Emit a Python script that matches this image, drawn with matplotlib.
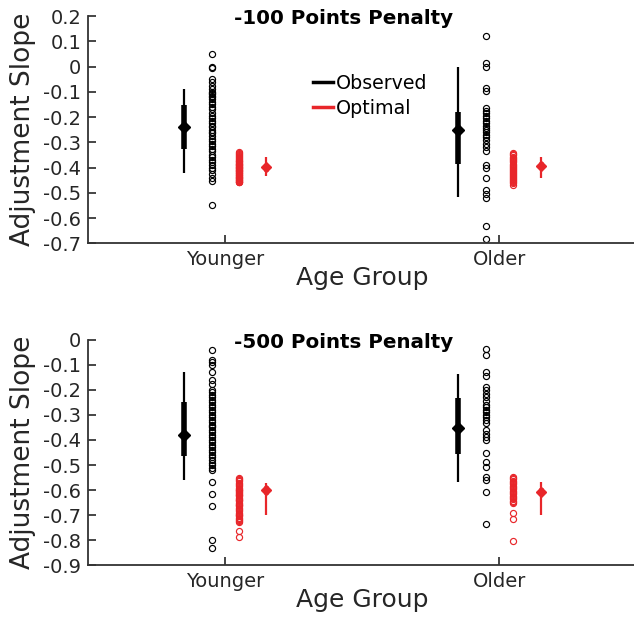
"""Adjustment slope by age group, observed vs optimal, for two penalty levels."""

import matplotlib
matplotlib.use("Agg")
import matplotlib.pyplot as plt
from matplotlib.lines import Line2D

groups = ["Younger", "Older"]
penalties = ["-100 Points Penalty", "-500 Points Penalty"]
RED = "#e8262a"

# per-participant slopes, -100 penalty
young_obs_100 = [0.05, 0.0, -0.005, -0.05, -0.06, -0.075, -0.09, -0.10, -0.105, -0.11,
                 -0.115, -0.12, -0.13, -0.14, -0.15, -0.16, -0.17, -0.185, -0.195, -0.205,
                 -0.215, -0.225, -0.235, -0.24, -0.25, -0.26, -0.265, -0.275, -0.285, -0.295,
                 -0.305, -0.315, -0.325, -0.335, -0.35, -0.36, -0.37, -0.38, -0.39, -0.40,
                 -0.41, -0.425, -0.44, -0.455, -0.55]
young_opt_100 = [-0.34, -0.343, -0.348, -0.35, -0.355, -0.36, -0.362, -0.366, -0.37, -0.373,
                 -0.375, -0.378, -0.381, -0.384, -0.386, -0.389, -0.39, -0.393, -0.396, -0.398,
                 -0.40, -0.402, -0.405, -0.408, -0.41, -0.413, -0.415, -0.418, -0.42, -0.423,
                 -0.425, -0.428, -0.43, -0.433, -0.436, -0.438, -0.441, -0.443, -0.446, -0.449,
                 -0.451, -0.454, -0.456, -0.458, -0.459]
old_obs_100 = [0.12, 0.015, 0.0, -0.085, -0.095, -0.165, -0.175, -0.185, -0.195, -0.205,
               -0.215, -0.225, -0.235, -0.245, -0.25, -0.26, -0.27, -0.28, -0.29, -0.305,
               -0.32, -0.335, -0.39, -0.40, -0.44, -0.49, -0.505, -0.52, -0.63, -0.685]
old_opt_100 = [-0.343, -0.348, -0.352, -0.357, -0.362, -0.366, -0.37, -0.375, -0.38, -0.384,
               -0.388, -0.392, -0.396, -0.40, -0.404, -0.408, -0.412, -0.416, -0.42, -0.424,
               -0.428, -0.432, -0.436, -0.44, -0.444, -0.448, -0.452, -0.457, -0.462, -0.468]

# per-participant slopes, -500 penalty
young_obs_500 = [-0.04, -0.08, -0.09, -0.10, -0.127, -0.16, -0.175, -0.20, -0.21, -0.22,
                 -0.23, -0.24, -0.25, -0.26, -0.27, -0.28, -0.29, -0.30, -0.31, -0.32,
                 -0.33, -0.34, -0.345, -0.35, -0.36, -0.37, -0.38, -0.39, -0.40, -0.41,
                 -0.42, -0.43, -0.44, -0.45, -0.46, -0.47, -0.48, -0.49, -0.50, -0.51,
                 -0.52, -0.567, -0.616, -0.663, -0.80, -0.833]
young_opt_500 = [-0.55, -0.555, -0.56, -0.565, -0.57, -0.575, -0.58, -0.585, -0.59, -0.595,
                 -0.60, -0.603, -0.607, -0.61, -0.615, -0.62, -0.625, -0.63, -0.635, -0.64,
                 -0.645, -0.65, -0.655, -0.66, -0.665, -0.67, -0.675, -0.68, -0.685, -0.69,
                 -0.695, -0.70, -0.705, -0.71, -0.715, -0.72, -0.725, -0.728, -0.60, -0.62,
                 -0.64, -0.66, -0.70, -0.764, -0.787]
old_obs_500 = [-0.036, -0.06, -0.129, -0.144, -0.187, -0.20, -0.215, -0.23, -0.245, -0.26,
               -0.27, -0.28, -0.29, -0.30, -0.31, -0.32, -0.333, -0.36, -0.375, -0.39,
               -0.40, -0.451, -0.487, -0.507, -0.547, -0.56, -0.607, -0.736]
old_opt_500 = [-0.547, -0.552, -0.557, -0.562, -0.567, -0.572, -0.577, -0.582, -0.587, -0.592,
               -0.597, -0.602, -0.607, -0.612, -0.617, -0.622, -0.627, -0.632, -0.637, -0.642,
               -0.647, -0.653, -0.691, -0.717, -0.804]

# summary stats: [centre, ci_low, ci_high, range_low, range_high]
young_obs_stats = [[-0.24, -0.325, -0.152, -0.42, -0.088], [-0.38, -0.464, -0.247, -0.56, -0.127]]
young_opt_stats = [[-0.399, -0.412, -0.385, -0.432, -0.359], [-0.60, -0.615, -0.585, -0.70, -0.571]]
old_obs_stats = [[-0.252, -0.385, -0.179, -0.515, 0.0], [-0.353, -0.456, -0.233, -0.567, -0.137]]
old_opt_stats = [[-0.392, -0.405, -0.378, -0.441, -0.359], [-0.607, -0.62, -0.592, -0.70, -0.567]]

ylims = [(-0.7, 0.2), (-0.9, 0.0)]


def draw_summary(ax, x, stats, color, thin, thick, ms):
    centre, lo, hi, rlo, rhi = stats
    ax.plot([x, x], [rlo, rhi], color=color, lw=thin, solid_capstyle="butt", zorder=2)
    ax.plot([x, x], [lo, hi], color=color, lw=thick, solid_capstyle="butt", zorder=3)
    ax.plot([x], [centre], marker="D", ms=ms, color=color, mec=color, zorder=4)


def draw_panel(ax, idx, obs_sets, opt_sets):
    for g, (obs, opt) in enumerate(zip(obs_sets, opt_sets)):
        x0 = g + 1
        ax.plot([x0 - 0.05] * len(obs), obs, "o", mfc="none", mec="black",
                ms=4.4, mew=0.85, zorder=2)
        ax.plot([x0 + 0.05] * len(opt), opt, "o", mfc="none", mec=RED,
                ms=4.4, mew=0.85, zorder=2)
    for g, (ostats, pstats) in enumerate([(young_obs_stats, young_opt_stats),
                                          (old_obs_stats, old_opt_stats)]):
        x0 = g + 1
        draw_summary(ax, x0 - 0.15, ostats[idx], "black", 1.6, 4.0, 6)
        draw_summary(ax, x0 + 0.15, pstats[idx], RED, 1.6, 3.5, 5.5)

    lo, hi = ylims[idx]
    ax.set_xlim(0.5, 2.5)
    ax.set_ylim(lo, hi)
    ax.set_xticks([1, 2])
    ax.set_xticklabels(groups)
    ticks = [round(lo + 0.1 * i, 1) for i in range(int(round((hi - lo) / 0.1)) + 1)]
    ax.set_yticks(ticks)
    ax.set_yticklabels(["0" if t == 0 else f"{t:g}" for t in ticks])
    ax.tick_params(direction="in", length=6, width=1.2, labelsize=14,
                   colors="#262626", pad=5)
    for side in ["top", "right"]:
        ax.spines[side].set_visible(False)
    for side in ["left", "bottom"]:
        ax.spines[side].set_linewidth(1.3)
        ax.spines[side].set_color("#333333")
    ax.set_ylabel("Adjustment Slope", fontsize=19, color="#262626", labelpad=5)
    ax.set_xlabel("Age Group", fontsize=18, color="#262626", labelpad=-2)
    ax.text(0.465, 0.99, penalties[idx], transform=ax.transAxes, ha="center",
            va="center", fontsize=14.3, fontweight="bold", color="black")


fig = plt.figure(figsize=(6.34, 6.19), dpi=100)
ax1 = fig.add_axes([0.139, 0.607, 0.865, 0.367])
ax2 = fig.add_axes([0.139, 0.087, 0.865, 0.364])

draw_panel(ax1, 0, [young_obs_100, old_obs_100], [young_opt_100, old_opt_100])
draw_panel(ax2, 1, [young_obs_500, old_obs_500], [young_opt_500, old_opt_500])

handles = [Line2D([0], [0], color="black", lw=2.5), Line2D([0], [0], color=RED, lw=2.5)]
ax1.legend(handles, ["Observed", "Optimal"], loc="upper left",
           bbox_to_anchor=(0.41, 0.745), frameon=False, fontsize=13.7,
           handlelength=1.05, handletextpad=0.15, labelspacing=0.3,
           borderpad=0, borderaxespad=0)

fig.savefig("out.png", dpi=100)
